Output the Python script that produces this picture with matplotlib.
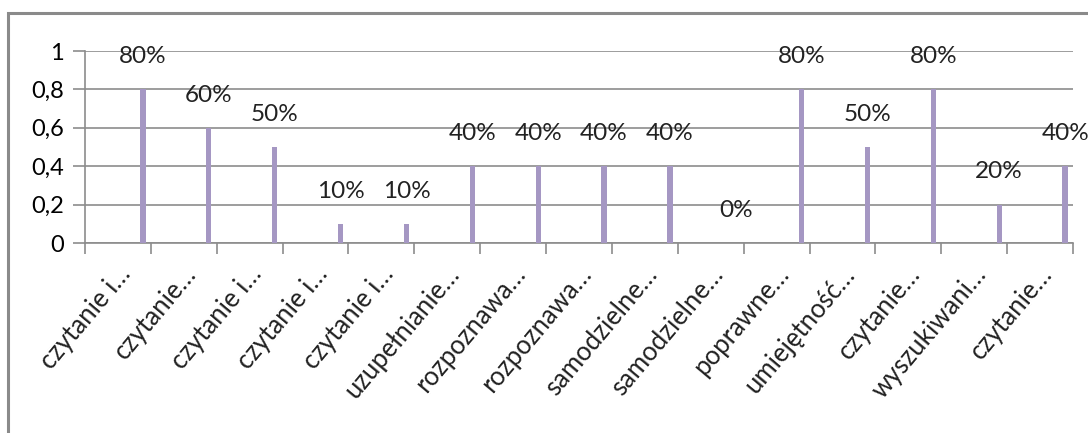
import numpy as np
import matplotlib.pyplot as plt
from matplotlib.patches import Rectangle

categories = ["czytanie i…", "czytanie…", "czytanie i…", "czytanie i…", "czytanie i…",
              "uzupełnianie…", "rozpoznawa…", "rozpoznawa…", "samodzielne…", "samodzielne…",
              "poprawne…", "umiejętność…", "czytanie…", "wyszukiwani…", "czytanie…"]
values = [0.8, 0.6, 0.5, 0.1, 0.1, 0.4, 0.4, 0.4, 0.4, 0.0, 0.8, 0.5, 0.8, 0.2, 0.4]
yticks = [0, 0.2, 0.4, 0.6, 0.8, 1.0]
ytick_labels = ["0", "0,2", "0,4", "0,6", "0,8", "1"]

plt.rcParams['font.family'] = ['Lato', 'DejaVu Sans']

bar_color = '#a597c3'
grid_color = '#8c8c8c'

fig = plt.figure(figsize=(10.88, 4.33), dpi=100)
ax = fig.add_axes([85 / 1088, 190 / 433, 988 / 1088, 192 / 433])

# outer chart frame
fig.patches.append(Rectangle((8 / 1088, -0.1), 1.2, (433 - 13) / 433 + 0.1,
                             transform=fig.transFigure, fill=False,
                             edgecolor='#8a8a8a', linewidth=2.2))

x = np.arange(len(categories))
offset = 0.38
ax.bar(x + offset, values, width=0.08, color=bar_color, zorder=3)

for xi, v in zip(x, values):
    ax.annotate(f"{v * 100:.0f}%", (xi + offset, v), xytext=(0, 16),
                textcoords='offset points', ha='center', va='bottom',
                fontsize=17.5, color='#222222', zorder=4)

ax.set_xlim(-0.5, len(categories) - 0.5)
ax.set_ylim(0, 1)
ax.set_yticks(yticks)
ax.set_yticklabels(ytick_labels, fontsize=17)
ax.yaxis.grid(True, color=grid_color, linewidth=1.2, zorder=0)

ax.set_xticks(np.arange(len(categories) + 1) - 0.5)
ax.set_xticklabels([])
ax.tick_params(axis='x', length=8, color=grid_color, width=1.2)
ax.tick_params(axis='y', length=9, color=grid_color, width=1.2, pad=6)

for xi, lab in zip(x, categories):
    ax.text(xi + 0.12, -0.14, lab, rotation=50, ha='right', va='center',
            rotation_mode='anchor', fontsize=18.5, transform=ax.transData,
            clip_on=False, color='#222222')

for s in ['top', 'right']:
    ax.spines[s].set_visible(False)
for s in ['left', 'bottom']:
    ax.spines[s].set_color(grid_color)
    ax.spines[s].set_linewidth(1.2)

fig.savefig('out.png', dpi=100)
